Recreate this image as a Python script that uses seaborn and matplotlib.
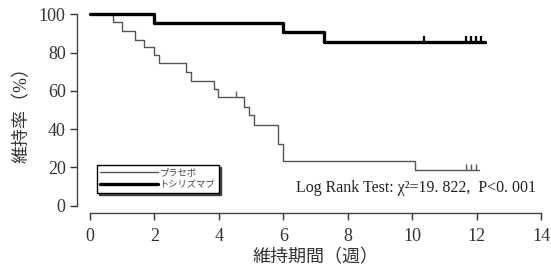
import numpy as np
import pandas as pd
import matplotlib
matplotlib.use("Agg")
import matplotlib.pyplot as plt
import seaborn as sns

# 読み取った生存曲線 (週, %)
placebo_t = [0, 0.72, 0.98, 1.41, 1.69, 1.98, 2.14, 2.98, 3.13, 3.84, 3.97,
             4.79, 4.95, 5.10, 5.83, 5.98, 10.08, 12.07]
placebo_s = [100, 96.0, 91.3, 86.7, 82.9, 78.5, 74.5, 69.8, 65.4, 61.1, 56.7,
             51.8, 47.5, 42.4, 32.3, 23.6, 18.8, 18.8]
placebo_cens_t = [4.54, 11.66, 11.82, 11.97]
placebo_cens_s = [56.7, 18.8, 18.8, 18.8]

toci_t = [0, 1.98, 5.98, 7.27, 12.25]
toci_s = [100, 95.5, 90.5, 85.5, 85.5]
toci_cens_t = [10.37, 11.67, 11.82, 11.98, 12.13]
toci_cens_s = [85.5, 85.5, 85.5, 85.5, 85.5]

x_ticks = [0, 2, 4, 6, 8, 10, 12, 14]
y_ticks = [0, 20, 40, 60, 80, 100]

sns.set_style("ticks")
plt.rcParams['font.family'] = ['Liberation Serif', 'Noto Sans CJK JP']

fig = plt.figure(figsize=(5.51, 2.73), dpi=100)
ax = fig.add_axes([0.1633, 0.2465, 0.8185, 0.7011])

df_p = pd.DataFrame({"t": placebo_t, "s": placebo_s})
df_t = pd.DataFrame({"t": toci_t, "s": toci_s})

sns.lineplot(data=df_p, x="t", y="s", ax=ax, estimator=None, sort=False,
             drawstyle="steps-post", color="#555555", linewidth=1.0,
             label="プラセボ", clip_on=False)
sns.lineplot(data=df_t, x="t", y="s", ax=ax, estimator=None, sort=False,
             drawstyle="steps-post", color="black", linewidth=2.4,
             label="トシリズマブ", clip_on=False)

# 打ち切り
ax.plot(placebo_cens_t, placebo_cens_s, linestyle="none", marker=2,
        markersize=4, markeredgewidth=1.0, color="#555555")
ax.plot(toci_cens_t, toci_cens_s, linestyle="none", marker=2,
        markersize=4, markeredgewidth=1.6, color="black")

ax.set_xlim(0, 14)
ax.set_ylim(0, 100)
ax.set_xticks(x_ticks)
ax.set_yticks(y_ticks)
ax.tick_params(labelsize=13, colors="#333333", length=5, width=1.0)
ax.tick_params(axis="x", pad=6)

sns.despine(ax=ax)
ax.spines['left'].set_position(('outward', 9))
ax.spines['bottom'].set_position(('outward', 5))
for sp in ['left', 'bottom']:
    ax.spines[sp].set_color("#444444")
    ax.spines[sp].set_linewidth(1.0)

ax.set_xlabel("維持期間（週）", fontsize=13, color="#333333", labelpad=3)
ax.set_ylabel("維持率（%）", fontsize=13, color="#333333", labelpad=6)

leg = ax.legend(loc="lower left", bbox_to_anchor=(0.015, 0.066), fontsize=6.7,
                handlelength=6.2, handletextpad=0.15, labelspacing=0.35,
                borderpad=0.4, borderaxespad=0, fancybox=False,
                shadow={'ox': 1.5, 'oy': -1.5, 'color': '#333333', 'alpha': 0.9},
                framealpha=1, edgecolor="black")
leg.get_frame().set_linewidth(1.0)
for txt in leg.get_texts():
    txt.set_color("#444444")

ax.text(13.85, 9.5, "Log Rank Test: χ²=19. 822,  P<0. 001", fontsize=11.5,
        ha="right", va="center", color="#222222")

fig.savefig("out.png", dpi=100)
